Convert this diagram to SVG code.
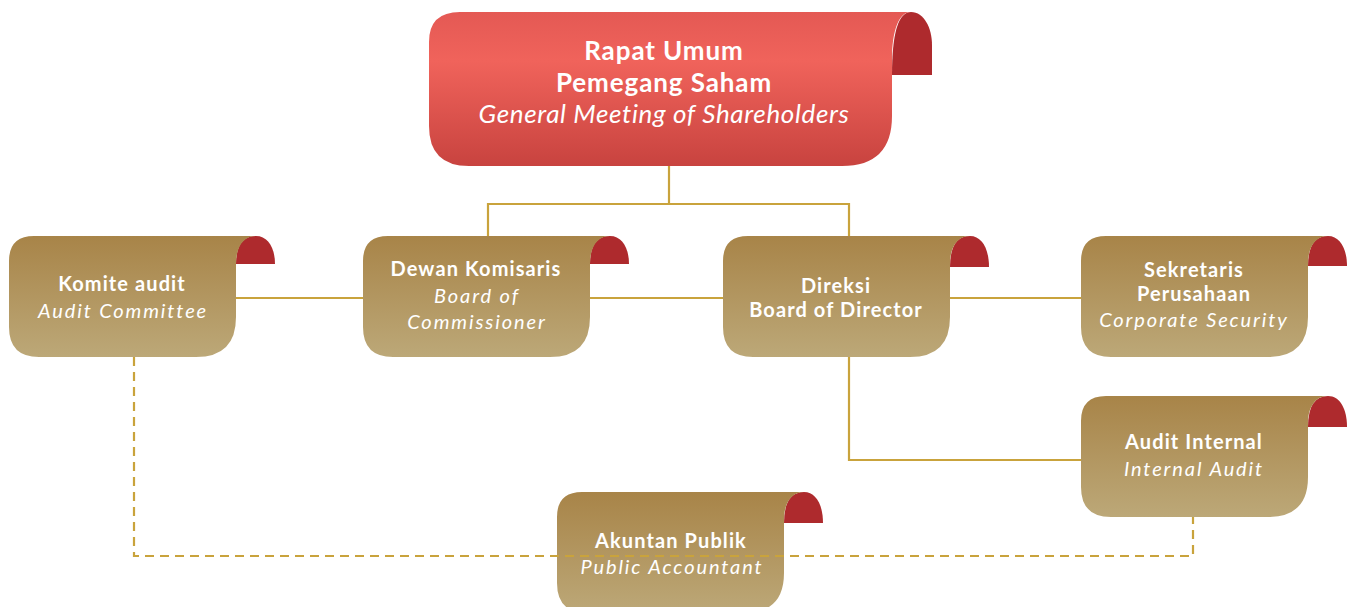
<svg xmlns="http://www.w3.org/2000/svg" width="1351" height="607" viewBox="0 0 1351 607">
  <defs>
    <linearGradient id="gRed" x1="0" y1="0" x2="0" y2="1">
      <stop offset="0" stop-color="#e45954"/>
      <stop offset="0.32" stop-color="#f0635b"/>
      <stop offset="1" stop-color="#c8433f"/>
    </linearGradient>
    <linearGradient id="gGold" x1="0" y1="0" x2="0" y2="1">
      <stop offset="0" stop-color="#a88448"/>
      <stop offset="1" stop-color="#bca878"/>
    </linearGradient>
    <style>
      .curl { fill: #ae2a2d; }
      .body-red { fill: url(#gRed); }
      .body-gold { fill: url(#gGold); }
      .t { font-family: Lato, "Open Sans", "Liberation Sans", sans-serif; fill: #ffffff; text-anchor: middle; font-variant-ligatures: none; }
      .b { font-weight: 700; }
      .i { font-style: italic; font-weight: 400; }
      .s.b { font-size: 20px; letter-spacing: 1.1px; }
      .s.i { font-size: 20px; letter-spacing: 1.9px; }
      .L.b { font-size: 26px; letter-spacing: 0.9px; }
      .L.i { font-size: 26px; letter-spacing: 0.65px; }
      .solid { stroke: #c9a33c; stroke-width: 2.2; fill: none; }
      .dash { stroke: #c9a33c; stroke-width: 2.2; fill: none; stroke-dasharray: 9 6; }
    </style>
  </defs>

  <!-- General Meeting of Shareholders -->
  <g id="node-rups">
    <path class="curl" d="M892,75 Q892,12 911,12 C924,12 932,28 932,45 V75 Z"/>
    <path class="body-red" d="M460,12 H911 C899,12 892,30 892,60 V116 Q892,166 842,166 H469 Q429,166 429,126 V42 Q429,12 460,12 Z"/>
    <text class="t b L" x="664" y="60">Rapat Umum</text>
    <text class="t b L" x="664" y="92">Pemegang Saham</text>
    <text class="t i L" x="664" y="123">General Meeting of Shareholders</text>
  </g>

  <!-- Audit Committee -->
  <g id="node-komite">
    <path class="curl" d="M236,264 Q236,236 256,236 C268,236 275,248 275,264 Z"/>
    <path class="body-gold" d="M34,236 H256 C244,236 236,246 236,264 V317 Q236,357 196,357 H39 Q9,357 9,327 V261 Q9,236 34,236 Z"/>
    <text class="t b s" x="122" y="291">Komite audit</text>
    <text class="t i s" x="123" y="318">Audit Committee</text>
  </g>

  <!-- Board of Commissioner -->
  <g id="node-dewan">
    <path class="curl" d="M590,264 Q590,236 610,236 C622,236 629,248 629,264 Z"/>
    <path class="body-gold" d="M388,236 H610 C598,236 590,246 590,264 V317 Q590,357 550,357 H393 Q363,357 363,327 V261 Q363,236 388,236 Z"/>
    <text class="t b s" x="476" y="276">Dewan Komisaris</text>
    <text class="t i s" x="477" y="303">Board of</text>
    <text class="t i s" x="477" y="329">Commissioner</text>
  </g>

  <!-- Board of Director -->
  <g id="node-direksi">
    <path class="curl" d="M950,267 Q950,236 970,236 C982,236 989,249 989,267 Z"/>
    <path class="body-gold" d="M748,236 H970 C958,236 950,246 950,264 V317 Q950,357 910,357 H753 Q723,357 723,327 V261 Q723,236 748,236 Z"/>
    <text class="t b s" x="836" y="293">Direksi</text>
    <text class="t b s" x="836" y="317">Board of Director</text>
  </g>

  <!-- Corporate Secretary -->
  <g id="node-sekretaris">
    <path class="curl" d="M1308,266 Q1308,236 1328,236 C1340,236 1347,249 1347,266 Z"/>
    <path class="body-gold" d="M1106,236 H1328 C1316,236 1308,246 1308,264 V317 Q1308,357 1268,357 H1111 Q1081,357 1081,327 V261 Q1081,236 1106,236 Z"/>
    <text class="t b s" x="1194" y="277">Sekretaris</text>
    <text class="t b s" x="1194" y="301">Perusahaan</text>
    <text class="t i s" x="1194" y="327">Corporate Security</text>
  </g>

  <!-- Internal Audit -->
  <g id="node-internal">
    <path class="curl" d="M1308,427 Q1308,396 1328,396 C1340,396 1347,409 1347,427 Z"/>
    <path class="body-gold" d="M1106,396 H1328 C1316,396 1308,406 1308,424 V477 Q1308,517 1268,517 H1111 Q1081,517 1081,487 V421 Q1081,396 1106,396 Z"/>
    <text class="t b s" x="1194" y="449">Audit Internal</text>
    <text class="t i s" x="1194" y="476">Internal Audit</text>
  </g>

  <!-- Public Accountant -->
  <g id="node-akuntan">
    <path class="curl" d="M784,523 Q784,492 804,492 C816,492 823,505 823,523 Z"/>
    <path class="body-gold" d="M582,492 H804 C792,492 784,502 784,520 V573 Q784,613 744,613 H587 Q557,613 557,583 V517 Q557,492 582,492 Z"/>
    <text class="t b s" x="671" y="548">Akuntan Publik</text>
    <text class="t i s" x="672" y="574">Public Accountant</text>
  </g>

  <!-- Connectors -->
  <g id="connectors">
    <path class="solid" d="M669,166 V204 M488,236 V204 H849 V236"/>
    <path class="solid" d="M236,298 H363 M590,298 H723 M950,298 H1081"/>
    <path class="solid" d="M849,357 V460 H1081"/>
    <path class="dash" d="M134,357 V556 H1193 V517"/>
  </g>
</svg>
